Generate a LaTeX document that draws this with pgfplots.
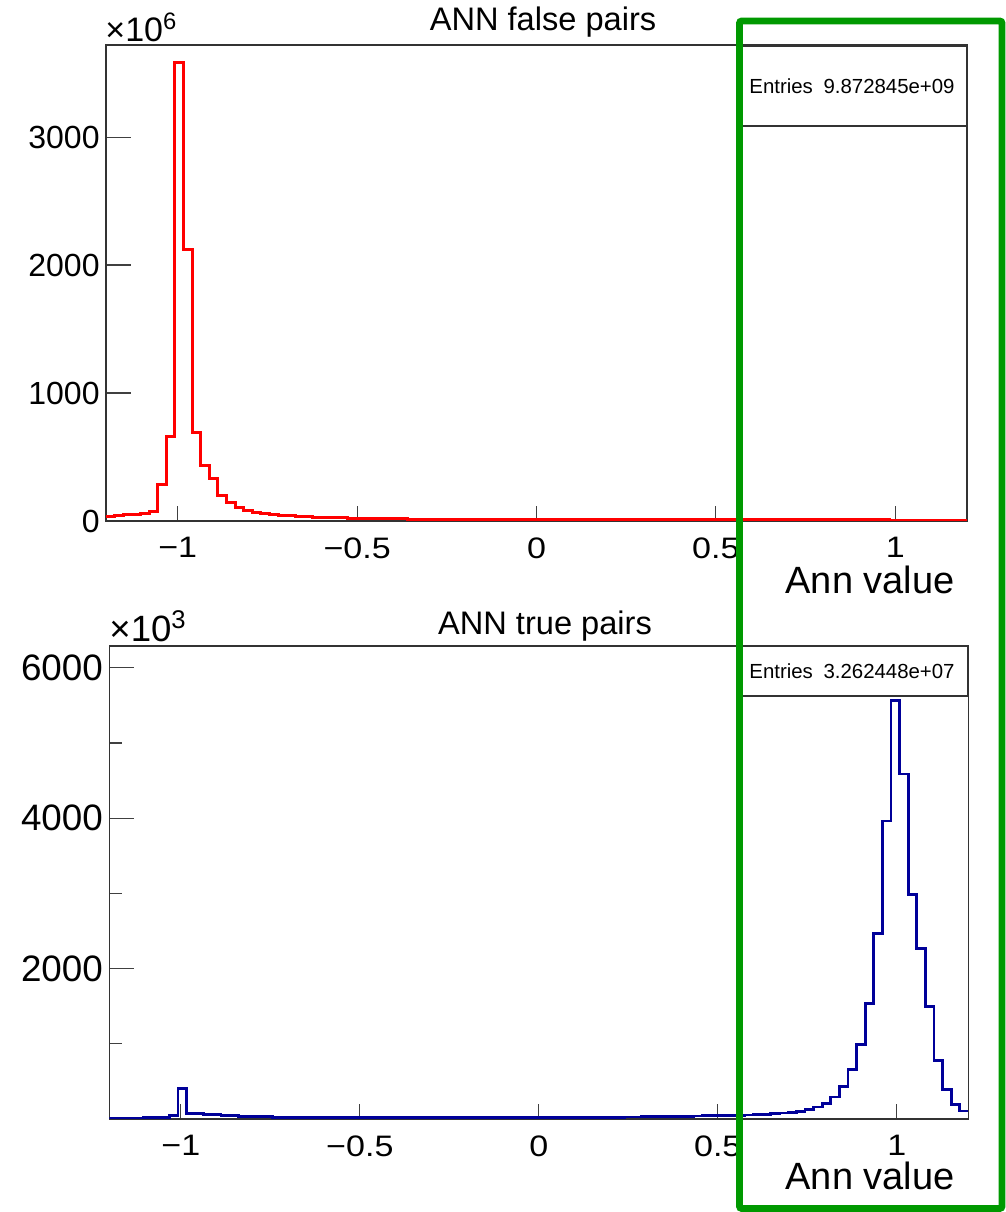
\documentclass[border=0pt]{standalone}
\usepackage{fontspec}
\setmainfont{Liberation Sans}
\newfontfamily\wideticks[FakeStretch=1.15]{Liberation Sans}
\usepackage{pgfplots}
\usepackage{pgfplotstable}
\pgfplotsset{compat=1.18}

\definecolor{rootgreen}{RGB}{0,153,0}
\definecolor{rootblue}{RGB}{0,0,153}

% ANN false pairs, bin low edge and content (x 10^6)
\pgfplotstableread{
x y
-1.200 39
-1.176 42
-1.152 47
-1.128 52
-1.104 57
-1.080 75
-1.056 286
-1.032 662
-1.008 3585
-0.984 2125
-0.960 695
-0.936 434
-0.912 332
-0.888 200
-0.864 148
-0.840 104
-0.816 83
-0.792 65
-0.768 55
-0.744 49
-0.720 44
-0.696 40
-0.672 36
-0.648 33
-0.624 30
-0.600 28
-0.576 26
-0.552 24
-0.528 22
-0.504 20
-0.480 19
-0.456 18
-0.432 17
-0.408 16
-0.384 16
-0.360 15
-0.336 15
-0.312 14
-0.288 14
-0.264 13
-0.240 12
-0.216 12
-0.192 11
-0.168 11
-0.144 11
-0.120 10
-0.096 10
-0.072 10
-0.048 10
-0.024 10
0.000 9
0.024 9
0.048 9
0.072 9
0.096 9
0.120 9
0.144 9
0.168 9
0.192 9
0.216 9
0.240 9
0.264 8
0.288 8
0.312 8
0.336 8
0.360 8
0.384 8
0.408 8
0.432 8
0.456 8
0.480 8
0.504 8
0.528 8
0.552 8
0.576 8
0.600 8
0.624 8
0.648 8
0.672 8
0.696 8
0.720 8
0.744 8
0.768 8
0.792 8
0.816 8
0.840 8
0.864 8
0.888 8
0.912 8
0.936 8
0.960 8
0.984 4
1.008 4
1.032 4
1.056 4
1.080 4
1.104 4
1.128 4
1.152 4
1.176 4
1.200 4
}\falsepairs

% ANN true pairs, bin low edge and content (x 10^3)
\pgfplotstableread{
x y
-1.200 10
-1.176 10
-1.152 11
-1.128 14
-1.104 15
-1.080 17
-1.056 24
-1.032 50
-1.008 410
-0.984 75
-0.960 68
-0.936 60
-0.912 55
-0.888 45
-0.864 42
-0.840 38
-0.816 35
-0.792 32
-0.768 28
-0.744 25
-0.720 21
-0.696 18
-0.672 18
-0.648 18
-0.624 18
-0.600 18
-0.576 18
-0.552 18
-0.528 18
-0.504 18
-0.480 18
-0.456 18
-0.432 18
-0.408 18
-0.384 18
-0.360 18
-0.336 18
-0.312 18
-0.288 18
-0.264 18
-0.240 18
-0.216 19
-0.192 19
-0.168 19
-0.144 19
-0.120 19
-0.096 19
-0.072 19
-0.048 19
-0.024 19
0.000 19
0.024 20
0.048 20
0.072 20
0.096 20
0.120 20
0.144 22
0.168 23
0.192 24
0.216 25
0.240 26
0.264 27
0.288 28
0.312 30
0.336 32
0.360 34
0.384 36
0.408 38
0.432 40
0.456 42
0.480 44
0.504 46
0.528 48
0.552 50
0.576 53
0.600 58
0.624 62
0.648 71
0.672 80
0.696 89
0.720 102
0.744 129
0.768 160
0.792 204
0.816 293
0.840 431
0.864 662
0.888 987
0.912 1538
0.936 2471
0.960 3964
0.984 5560
1.008 4587
1.032 2982
1.056 2271
1.080 1493
1.104 782
1.128 396
1.152 196
1.176 107
1.200 107
}\truepairs

\pgfplotsset{
  rootpad/.style={
    scale only axis,
    anchor=south west,
    xmin=-1.2, xmax=1.2,
    axis line style={black!80, line width=0.6pt},
    tick style={black!75, line width=0.6pt},
    tick align=inside,
    xtick pos=bottom, ytick pos=left,
    xtick={-1,-0.5,0,0.5,1},
    xticklabels={−1,−0.5,0,0.5,1},
    minor x tick num=0,
    scaled ticks=false,
    xtick style={/pgfplots/major tick length=7.5pt},
    ytick style={/pgfplots/major tick length=12.5pt},
    minor tick length=6.5pt,
    xticklabel style={font=\wideticks\fontsize{14.8}{14.8}\selectfont, inner sep=0pt, yshift=-8pt},
    yticklabel style={inner sep=0pt, xshift=-3pt},
  }
}

\begin{document}
\begin{tikzpicture}
\useasboundingbox (0,0) rectangle (503pt,606pt);

\begin{axis}[rootpad,
    at={(53pt,345.5pt)}, width=430.5pt, height=238pt,
    ymin=0, ymax=3720,
    ytick={0,1000,2000,3000}, yticklabels={0,1000,2000,3000},
    yticklabel style={font=\fontsize{16}{16}\selectfont}]
\addplot[const plot, red, line width=1.5pt, line join=miter] table {\falsepairs};
\end{axis}

\begin{axis}[rootpad,
    at={(54.65pt,46.5pt)}, width=429.5pt, height=236.5pt,
    ymin=0, ymax=6290,
    ytick={2000,4000,6000}, yticklabels={2000,4000,6000},
    minor ytick={1000,3000,5000},
    yticklabel style={font=\fontsize{18.4}{18.4}\selectfont}]
\addplot[const plot, rootblue, line width=1.4pt, line join=miter] table {\truepairs};
\end{axis}

% overlay in pixel units of the reference
\begin{scope}[x=0.5pt, y=-0.5pt, yshift=606pt]
  \node[anchor=base, inner sep=0pt, font=\fontsize{16.3}{16.3}\selectfont] at (543,31) {ANN false pairs};
  \node[anchor=base, inner sep=0pt, font=\fontsize{16.3}{16.3}\selectfont] at (545,635) {ANN true pairs};
  \node[anchor=base west, inner sep=0pt, font=\fontsize{17}{17}\selectfont] at (105,42) {×10\textsuperscript{6}};
  \node[anchor=base west, inner sep=0pt, font=\fontsize{18.3}{18.3}\selectfont] at (109,641.5) {×10\textsuperscript{3}};

  \draw[black!80, line width=0.6pt, fill=white] (740,46) rectangle (967,126);
  \draw[black!80, line width=0.6pt, fill=white] (740,646) rectangle (968,696);
  \node[anchor=base west, inner sep=0pt, font=\fontsize{10.2}{10.2}\selectfont] at (749,94) {Entries};
  \node[anchor=base east, inner sep=0pt, font=\fontsize{10.2}{10.2}\selectfont] at (955,94) {9.872845e+09};
  \node[anchor=base west, inner sep=0pt, font=\fontsize{10.2}{10.2}\selectfont] at (749,679) {Entries};
  \node[anchor=base east, inner sep=0pt, font=\fontsize{10.2}{10.2}\selectfont] at (955,679) {3.262448e+07};

  \node[anchor=base east, inner sep=0pt, font=\fontsize{19}{19}\selectfont] at (955,594) {Ann value};
  \node[anchor=base east, inner sep=0pt, font=\fontsize{19}{19}\selectfont] at (955,1190) {Ann value};

  \draw[rootgreen, line width=3.3pt, rounded corners=1pt] (739.5,21) rectangle (1002,1208.5);
\end{scope}
\end{tikzpicture}
\end{document}
